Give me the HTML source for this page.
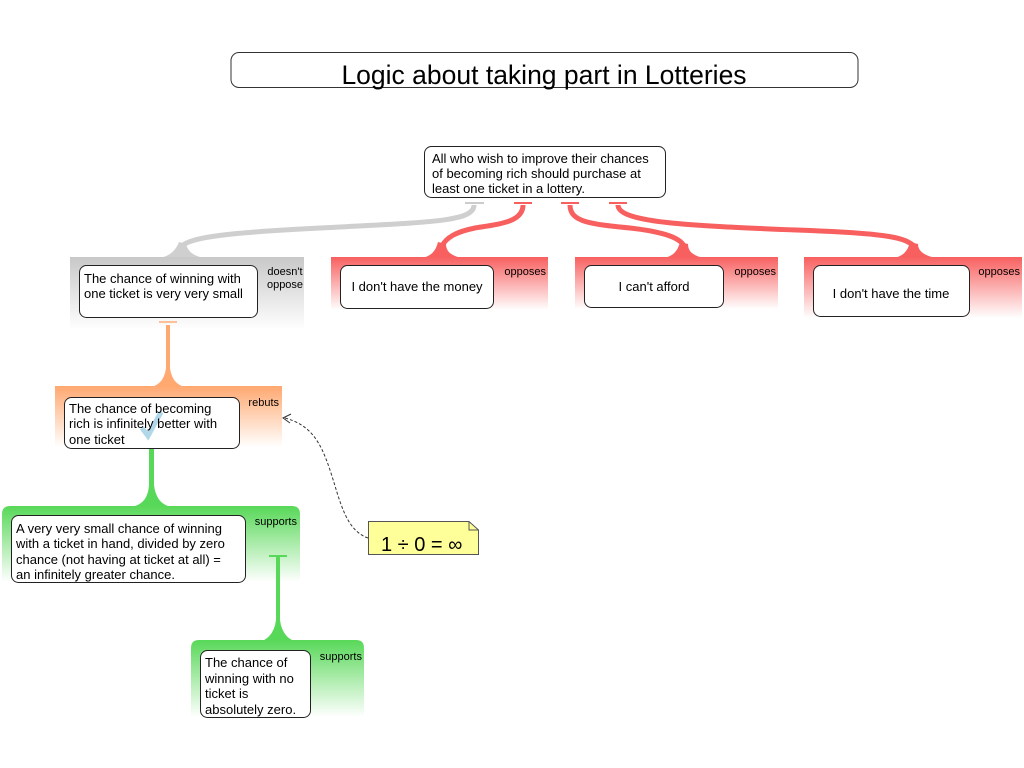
<!DOCTYPE html>
<html><head><meta charset="utf-8"><style>
body{margin:0;background:#fff}
svg{display:block;font-family:"Liberation Sans",sans-serif}
</style></head><body>
<svg width="1024" height="768" viewBox="0 0 1024 768" xmlns="http://www.w3.org/2000/svg">
<defs>
<linearGradient id="gg" x1="0" y1="0" x2="0" y2="1"><stop offset="0" stop-color="#c8c8c8"/><stop offset="1" stop-color="#fff"/></linearGradient>
<linearGradient id="gr" x1="0" y1="0" x2="0" y2="1"><stop offset="0" stop-color="#f86060"/><stop offset="1" stop-color="#fff"/></linearGradient>
<linearGradient id="go" x1="0" y1="0" x2="0" y2="1"><stop offset="0" stop-color="#ffa870"/><stop offset="1" stop-color="#fff"/></linearGradient>
<linearGradient id="gn" x1="0" y1="0" x2="0" y2="1"><stop offset="0" stop-color="#58d858"/><stop offset="1" stop-color="#fff"/></linearGradient>
</defs>

<!-- title -->
<rect x="231" y="52.5" width="627" height="35" rx="8" fill="#fff" stroke="#333"/>
<text x="544" y="84" font-size="26.5" text-anchor="middle" fill="#000">Logic about taking part in Lotteries</text>

<!-- connectors top -->
<g fill="none" stroke-linecap="butt" stroke-width="5">
<path d="M474 205 C474 222 430 222 320 228 C220 233 190 238 182 246" stroke="#cfcfcf"/>
<path d="M523 205 C523 222 500 224 475 228 C455 232 446 238 442 246" stroke="#f86060"/>
<path d="M570 205 C570 222 590 224 630 228 C665 232 680 238 684 246" stroke="#f86060"/>
<path d="M618 205 C618 224 700 226 820 231 C890 234 905 238 914 246" stroke="#f86060"/>
</g>
<path d="M160 258 C170 256 176 250 179 242 L186 244 C188 252 194 256 204 258Z" fill="#cfcfcf"/>
<path d="M422 258 C432 256 436 250 438 242 L446 244 C446 252 452 256 462 258Z" fill="#f86060"/>
<path d="M664 258 C674 256 678 250 680 242 L688 244 C688 252 694 256 704 258Z" fill="#f86060"/>
<path d="M894 258 C904 256 908 250 910 242 L918 244 C918 252 926 256 936 258Z" fill="#f86060"/>
<g stroke-width="2">
<line x1="465" y1="203" x2="484" y2="203" stroke="#ccc"/>
<line x1="514" y1="203" x2="532" y2="203" stroke="#f86060"/>
<line x1="561" y1="203" x2="579" y2="203" stroke="#f86060"/>
<line x1="609" y1="203" x2="627" y2="203" stroke="#f86060"/>
</g>

<!-- top claim -->
<rect x="424.5" y="146.5" width="241" height="51" rx="7" fill="#fff" stroke="#222"/>
<g font-size="13" fill="#000">
<text x="432" y="163">All who wish to improve their chances</text>
<text x="432" y="178">of becoming rich should purchase at</text>
<text x="432" y="193">least one ticket in a lottery.</text>
</g>

<!-- bands row -->
<rect x="70" y="257" width="234" height="73" fill="url(#gg)"/>
<rect x="331" y="257" width="217" height="53" fill="url(#gr)"/>
<rect x="575" y="257" width="203" height="52" fill="url(#gr)"/>
<rect x="804" y="257" width="218" height="61" fill="url(#gr)"/>

<g fill="#fff" stroke="#222">
<rect x="79.5" y="265.5" width="178" height="52" rx="7"/>
<rect x="340.5" y="265.5" width="153" height="43" rx="7"/>
<rect x="584.5" y="265.5" width="139" height="42" rx="7"/>
<rect x="813.5" y="265.5" width="156" height="51" rx="7"/>
</g>
<g font-size="13" fill="#000">
<text x="84" y="283">The chance of winning with</text>
<text x="84" y="298">one ticket is very very small</text>
<text x="417" y="291" text-anchor="middle">I don't have the money</text>
<text x="654" y="291" text-anchor="middle">I can't afford</text>
<text x="891" y="298" text-anchor="middle">I don't have the time</text>
</g>
<g font-size="11" fill="#000">
<text x="285" y="275" text-anchor="middle">doesn't</text>
<text x="285" y="288" text-anchor="middle">oppose</text>
<text x="546" y="275" text-anchor="end">opposes</text>
<text x="776" y="275" text-anchor="end">opposes</text>
<text x="1020" y="275" text-anchor="end">opposes</text>
</g>

<!-- orange connector -->
<line x1="159" y1="322" x2="177" y2="322" stroke="#ffc098" stroke-width="2"/>
<path d="M166 325 L170 325 L170 368 Q172 384 185 387 L151 387 Q164 384 166 368Z" fill="#ffa870"/>
<rect x="55" y="386" width="227" height="61" fill="url(#go)"/>
<rect x="64.5" y="397.5" width="175" height="51" rx="7" fill="#fff" stroke="#222"/>
<path d="M142 428 L148 436 L161 412" fill="none" stroke="#a8d4e6" stroke-width="5" opacity="0.9"/>
<g font-size="13" fill="#000">
<text x="69" y="413">The chance of becoming</text>
<text x="69" y="428">rich is infinitely better with</text>
<text x="69" y="444">one ticket</text>
</g>
<text x="279" y="406" font-size="11" text-anchor="end">rebuts</text>

<!-- green connector 1 -->
<path d="M149 449 L154 449 L154 485 Q156 502 168 506 L135 506 Q148 502 149 485Z" fill="#58d858"/>
<path d="M2 582 L2 514 Q2 506 10 506 L292 506 Q300 506 300 514 L300 582Z" fill="url(#gn)"/>
<rect x="11.5" y="515.5" width="234" height="67" rx="7" fill="#fff" stroke="#222"/>
<g font-size="13" fill="#000">
<text x="16" y="533">A very very small chance of winning</text>
<text x="16" y="548">with a ticket in hand, divided by zero</text>
<text x="16" y="564">chance (not having at ticket at all) =</text>
<text x="16" y="579">an infinitely greater chance.</text>
</g>
<text x="297" y="525" font-size="11" text-anchor="end">supports</text>

<!-- green connector 2 -->
<line x1="269" y1="556" x2="287" y2="556" stroke="#58d858" stroke-width="2"/>
<path d="M276 557 L280 557 L280 620 Q282 636 294 641 L262 641 Q274 636 276 620Z" fill="#58d858"/>
<path d="M191 717 L191 648 Q191 640 199 640 L356 640 Q364 640 364 648 L364 717Z" fill="url(#gn)"/>
<rect x="200.5" y="650.5" width="110" height="67" rx="7" fill="#fff" stroke="#222"/>
<g font-size="13" fill="#000">
<text x="205" y="667">The chance of</text>
<text x="205" y="683">winning with no</text>
<text x="205" y="698">ticket is</text>
<text x="205" y="714">absolutely zero.</text>
</g>
<text x="362" y="660" font-size="11" text-anchor="end">supports</text>

<!-- note -->
<path d="M368.5 521.5 L469 521.5 L478.5 530 L478.5 554.5 L368.5 554.5Z" fill="#ffff99" stroke="#555"/>
<path d="M469 521.5 L469 530 L478.5 530" fill="none" stroke="#555"/>
<text x="381" y="551" font-size="20" fill="#000">1 ÷ 0 = ∞</text>
<path d="M368 538 C345 530 340 500 330 470 C320 440 310 425 285 418" fill="none" stroke="#333" stroke-width="1" stroke-dasharray="3,2"/>
<path d="M291 414 L283 418 L290 423" fill="none" stroke="#333" stroke-width="1"/>
</svg>
</body></html>
